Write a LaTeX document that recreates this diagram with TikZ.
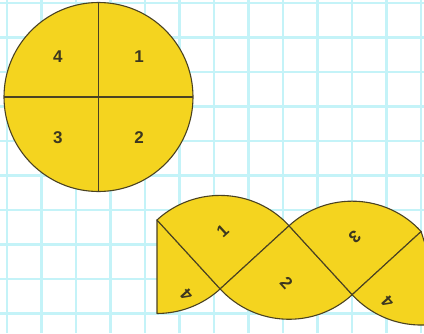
\documentclass[tikz,border=0pt]{standalone}
\usepackage{fontspec}
\setmainfont{Liberation Sans}
\usepackage{xcolor}
\usetikzlibrary{calc}
\definecolor{paper}{HTML}{FFFFFF}
\definecolor{gridblue}{HTML}{C4F3F8}
\definecolor{sunny}{HTML}{F4D41F}
\definecolor{ink}{HTML}{4A4222}
\definecolor{digit}{HTML}{3C3720}

\begin{document}
\begin{tikzpicture}[x=1pt,y=1pt,
  gridline/.style={gridblue,line width=2.2pt},
  piece/.style={fill=sunny,draw=ink,line width=1.1pt,line join=round},
  cut/.style={draw=ink,line width=1.1pt},
  lbl/.style={text=digit,font=\fontsize{17}{18}\selectfont\bfseries}]
\useasboundingbox (0,0) rectangle (424,333);
\fill[paper] (0,0) rectangle (424,333);
\begin{scope}
\clip (0,0) rectangle (424,333);
% squared paper
\foreach \gx in {0,...,12} \draw[gridline] ({7+34.5*\gx},0) -- ++(0,333);
\foreach \gy in {0,...,9} \draw[gridline] (0,{330-34.5*\gy}) -- ++(424,0);
% whole circle
\coordinate (O) at (98.5,236);
\draw[piece] (O) circle (94.5);
\draw[cut] ($(O)+(0,94.5)$) -- ($(O)+(0,-94.5)$);
\draw[cut] ($(O)+(-94.5,0)$) -- ($(O)+(94.5,0)$);
\node[lbl] (q4) at ($(O)+(135:57.5)$) {4};
\node[lbl] (q1) at ($(O)+(45:57.5)$) {1};
\node[lbl] (q3) at ($(O)+(225:57.5)$) {3};
\node[lbl] (q2) at ($(O)+(-45:57.5)$) {2};
% pieces laid side by side
\begin{scope}[shift={(157,113)},rotate=-2.5]
\def\r{93.5}
\coordinate (P0) at (0,0);
\coordinate (P1) at (66.1,-66.1);
\coordinate (P2) at (132.2,0);
\coordinate (P3) at (198.3,-66.1);
\coordinate (P4) at (264.4,0);
\draw[piece] (P0) -- ++(272.5:\r) arc[start angle=272.5,end angle=315,radius=\r] -- cycle;
\draw[piece] (P1) -- ++(45:\r) arc[start angle=45,end angle=135,radius=\r] -- cycle;
\draw[piece] (P2) -- ++(225:\r) arc[start angle=225,end angle=315,radius=\r] -- cycle;
\draw[piece] (P3) -- ++(45:\r) arc[start angle=45,end angle=135,radius=\r] -- cycle;
\draw[piece] (P4) -- ++(225:\r) arc[start angle=225,end angle=290,radius=\r] -- cycle;
\node[lbl,rotate=132.5] (s4a) at ($(P0)+(-66:81)$) {4};
\node[lbl,rotate=42.5] (s1) at ($(P1)+(90:57.5)$) {1};
\node[lbl,rotate=-47.5] (s2) at ($(P2)+(270:57.5)$) {2};
\node[lbl,rotate=-137.5] (s3) at ($(P3)+(90:57.5)$) {3};
\node[lbl,rotate=132.5] (s4b) at ($(P4)+(247:78)$) {4};
\end{scope}
\end{scope}
\end{tikzpicture}
\end{document}
